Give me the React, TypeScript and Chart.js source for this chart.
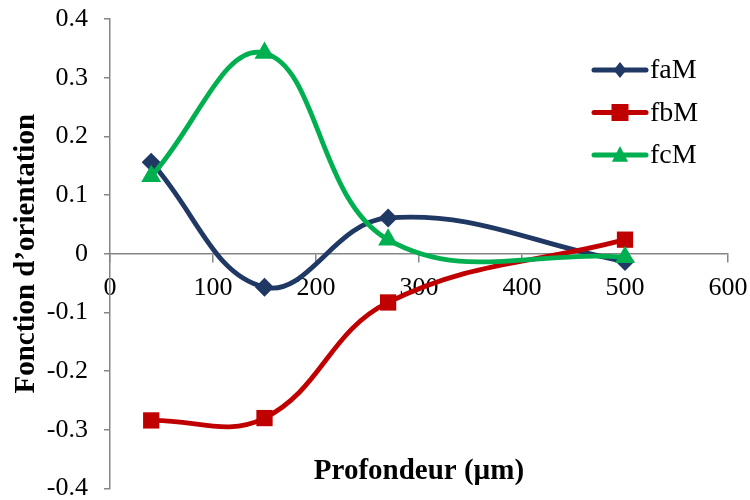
import React, { useEffect, useRef } from "react";
import { Chart, registerables } from "chart.js";

Chart.register(...registerables);

// ---- data ----
const depths = [40, 150, 270, 500];
const faM = [0.156, -0.057, 0.061, -0.013];
const fbM = [-0.284, -0.28, -0.083, 0.024];
const fcM = [0.132, 0.342, 0.024, -0.006];
const xTicks = [0, 100, 200, 300, 400, 500, 600];
const yTicks = [-0.4, -0.3, -0.2, -0.1, 0, 0.1, 0.2, 0.3, 0.4];
const yTickLabels = ["-0.4", "-0.3", "-0.2", "-0.1", "0", "0.1", "0.2", "0.3", "0.4"];
const seriesNames = ["faM", "fbM", "fcM"];
const seriesColors = ["#1F3864", "#C00000", "#00B050"];
const seriesMarkers = ["rectRot", "rect", "triangle"];
const xTitle = "Profondeur (µm)";
const yTitle = "Fonction d’orientation";

const FONT = "'Liberation Serif', 'Times New Roman', serif";

function drawMarker(ctx: CanvasRenderingContext2D, kind: string, x: number, y: number, r: number) {
  ctx.beginPath();
  if (kind === "rectRot") {
    ctx.moveTo(x, y - r);
    ctx.lineTo(x + r * 0.8, y);
    ctx.lineTo(x, y + r);
    ctx.lineTo(x - r * 0.8, y);
  } else if (kind === "rect") {
    ctx.rect(x - r, y - r, 2 * r, 2 * r);
  } else {
    ctx.moveTo(x, y - r);
    ctx.lineTo(x + r * 0.9, y + r * 0.75);
    ctx.lineTo(x - r * 0.9, y + r * 0.75);
  }
  ctx.closePath();
  ctx.fill();
}

const annotations = {
  id: "annotations",
  afterDraw(chart: any) {
    const ctx = chart.ctx as CanvasRenderingContext2D;
    const area = chart.chartArea;
    ctx.save();
    ctx.fillStyle = "#000";
    ctx.font = `bold 29px ${FONT}`;
    ctx.textAlign = "center";
    ctx.textBaseline = "middle";
    ctx.fillText(xTitle, (area.left + area.right) / 2, 472);
    ctx.translate(27, (area.top + area.bottom) / 2);
    ctx.rotate(-Math.PI / 2);
    ctx.fillText(yTitle, 0, 0);
    ctx.restore();

    // legend
    const markerSizes = [8, 8.5, 9];
    ctx.save();
    seriesNames.forEach((name, i) => {
      const cy = 70 + i * 42.5;
      ctx.strokeStyle = seriesColors[i];
      ctx.fillStyle = seriesColors[i];
      ctx.lineWidth = 5;
      ctx.lineCap = "round";
      ctx.beginPath();
      ctx.moveTo(594, cy);
      ctx.lineTo(646, cy);
      ctx.stroke();
      drawMarker(ctx, seriesMarkers[i], 620, cy, markerSizes[i]);
      ctx.fillStyle = "#000";
      ctx.font = `28px ${FONT}`;
      ctx.textAlign = "left";
      ctx.textBaseline = "middle";
      ctx.fillText(name, 650, cy + 1);
    });
    ctx.restore();
  },
};

export default function App() {
  const ref = useRef<HTMLCanvasElement | null>(null);

  useEffect(() => {
    if (!ref.current) return;
    const values = [faM, fbM, fcM];
    const radii = [9.5, 11.5, 11.5];
    const chart = new Chart(ref.current, {
      type: "line",
      data: {
        datasets: seriesNames.map((name, i) => ({
          label: name,
          data: depths.map((d, j) => ({ x: d, y: values[i][j] })),
          borderColor: seriesColors[i],
          backgroundColor: seriesColors[i],
          borderWidth: 4.8,
          pointStyle: seriesMarkers[i] as any,
          pointRadius: radii[i],
          pointBorderWidth: 0,
          pointBackgroundColor: seriesColors[i],
          tension: 0.4,
          fill: false,
          order: 2 - i,
          clip: false as any,
        })),
      },
      options: {
        animation: false,
        responsive: false,
        layout: { padding: { left: 0, top: 19, right: 22, bottom: 11.5 } },
        plugins: {
          legend: { display: false },
          tooltip: { enabled: false },
        },
        scales: {
          x: {
            type: "linear",
            position: { y: 0 } as any,
            min: 0,
            max: 600,
            afterBuildTicks: (s: any) => {
              s.ticks = xTicks.map((v) => ({ value: v }));
            },
            afterFit: (s: any) => {
              s.paddingLeft = 0;
              s.paddingRight = 0;
            },
            grid: {
              drawOnChartArea: false,
              drawTicks: true,
              tickLength: 8,
              color: "#868686",
              lineWidth: 1.5,
            },
            border: { display: true, color: "#868686", width: 1.5 },
            ticks: {
              color: "#000",
              font: { family: FONT, size: 26 },
              padding: 11,
              maxRotation: 0,
              autoSkip: false,
            },
          },
          y: {
            type: "linear",
            min: -0.4,
            max: 0.4,
            afterBuildTicks: (s: any) => {
              s.ticks = yTicks.map((v) => ({ value: v }));
            },
            afterFit: (s: any) => {
              s.width = 110;
              s.paddingTop = 0;
              s.paddingBottom = 0;
            },
            grid: {
              drawOnChartArea: false,
              drawTicks: true,
              tickLength: 6,
              color: "#868686",
              lineWidth: 1.5,
            },
            border: { display: true, color: "#868686", width: 1.5 },
            ticks: {
              color: "#000",
              font: { family: FONT, size: 26 },
              padding: 16,
              autoSkip: false,
              callback: (v: any) => {
                const idx = yTicks.findIndex((t) => Math.abs(t - Number(v)) < 1e-9);
                return idx >= 0 ? yTickLabels[idx] : "";
              },
            },
          },
        },
      },
      plugins: [annotations],
    });
    return () => chart.destroy();
  }, []);

  return (
    <div style={{ position: "absolute", left: 0, top: 0, width: 750, height: 500, background: "#fff" }}>
      <canvas ref={ref} width={750} height={500} style={{ display: "block" }} />
    </div>
  );
}
